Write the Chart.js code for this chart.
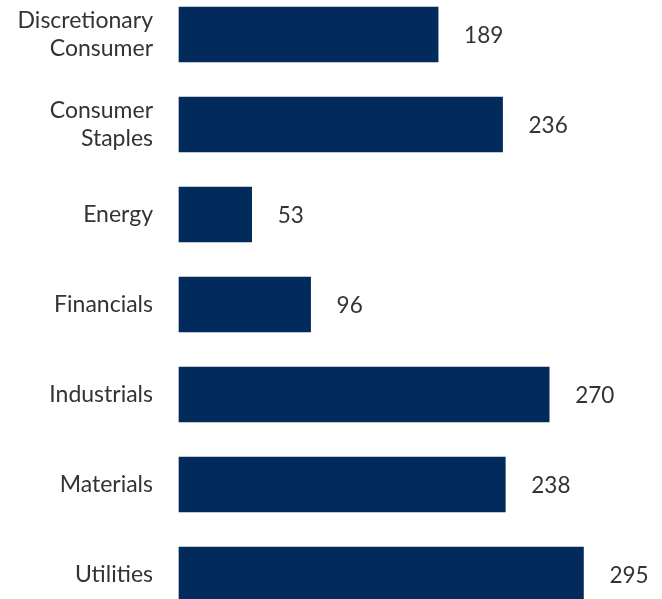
<!DOCTYPE html>
<html>
<head>
<meta charset="utf-8">
<script src="https://cdn.jsdelivr.net/npm/chart.js@4"></script>
<style>
  html, body { margin: 0; padding: 0; background: #fff; }
  #wrap { width: 662px; height: 599px; position: relative; }
</style>
</head>
<body>
<div id="wrap"><canvas id="chart"></canvas></div>
<script>
// sector labels and values
var sectors = [
    ['Discretionary', 'Consumer'],
    ['Consumer', 'Staples'],
    'Energy',
    'Financials',
    'Industrials',
    'Materials',
    'Utilities'
];
var counts = [189, 236, 53, 96, 270, 238, 295];

var FONT = 'Lato, "Open Sans", sans-serif';

// draw the value next to the end of each bar
var valueLabels = {
    id: 'valueLabels',
    afterDatasetsDraw: function (chart) {
        var ctx = chart.ctx;
        var meta = chart.getDatasetMeta(0);
        ctx.save();
        ctx.font = '22.5px ' + FONT;
        ctx.fillStyle = '#333333';
        ctx.textAlign = 'left';
        ctx.textBaseline = 'middle';
        meta.data.forEach(function (bar, i) {
            ctx.fillText(String(counts[i]), bar.x + 26, bar.y + 1);
        });
        ctx.restore();
    }
};

var ctx = document.getElementById('chart').getContext('2d');
var chart = new Chart(ctx, {
    type: 'bar',
    data: {
        labels: sectors,
        datasets: [{
            data: counts,
            backgroundColor: '#022b5b',
            barThickness: 55,
            clip: false
        }]
    },
    options: {
        indexAxis: 'y',
        responsive: true,
        maintainAspectRatio: false,
        animation: false,
        layout: { padding: { top: 34.5, bottom: 24.5, left: 0, right: 10 } },
        plugins: {
            legend: { display: false },
            tooltip: { enabled: false }
        },
        scales: {
            x: {
                display: false,
                min: 0,
                max: 345
            },
            y: {
                offset: false,
                grid: { display: false, drawTicks: false },
                border: { display: false },
                afterFit: function (scale) {
                    scale.width = 179;
                    scale.paddingTop = 0;
                    scale.paddingBottom = 0;
                },
                ticks: {
                    padding: 26,
                    color: '#333333',
                    font: { family: FONT, size: 23, lineHeight: 1.22 }
                }
            }
        }
    },
    plugins: [valueLabels]
});
</script>
</body>
</html>
